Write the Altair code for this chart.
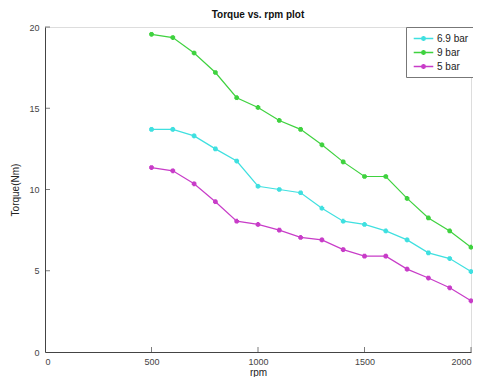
import altair as alt
import pandas as pd

rpm = [500, 600, 700, 800, 900, 1000, 1100, 1200, 1300, 1400, 1500, 1600, 1700, 1800, 1900, 2000]
torque_69 = [13.7, 13.7, 13.3, 12.5, 11.75, 10.2, 10.0, 9.8, 8.85, 8.05, 7.85, 7.45, 6.9, 6.1, 5.75, 4.95]
torque_9 = [19.55, 19.35, 18.4, 17.2, 15.65, 15.05, 14.25, 13.7, 12.75, 11.7, 10.8, 10.8, 9.45, 8.25, 7.45, 6.45]
torque_5 = [11.35, 11.15, 10.35, 9.25, 8.05, 7.85, 7.5, 7.05, 6.9, 6.3, 5.9, 5.9, 5.1, 4.55, 3.95, 3.15]
series = ["6.9 bar", "9 bar", "5 bar"]
colors = ["#3fe0e0", "#3fd23f", "#c83cc8"]
x_ticks = [500, 1000, 1500, 2000]
y_ticks = [5, 10, 15, 20]

rows = []
for name, vals in zip(series, [torque_69, torque_9, torque_5]):
    for r, t in zip(rpm, vals):
        rows.append({"rpm": r, "torque": t, "pressure": name})
df = pd.DataFrame(rows)

W, H = 426, 325
xscale = alt.Scale(domain=[0, 2000], nice=False, zero=False)
yscale = alt.Scale(domain=[0, 20], nice=False)
cscale = alt.Scale(domain=series, range=colors)

asterisk = "M-1,0L1,0M0,-1L0,1M-0.7,-0.7L0.7,0.7M-0.7,0.7L0.7,-0.7"
legend_sym = "M-1.5,0L1.5,0M-0.4,0L0.4,0M0,-0.4L0,0.4M-0.28,-0.28L0.28,0.28M-0.28,0.28L0.28,-0.28"

base = alt.Chart(df)
lines = base.mark_line(strokeWidth=1.2).encode(
    x=alt.X("rpm:Q", scale=xscale,
            axis=alt.Axis(values=[0] + x_ticks, format="d", title="rpm", grid=False, ticks=False,
                          domainColor="#444", labelColor="#444", labelFontSize=9,
                          labelPadding=5, titleFontSize=10, titleFontWeight="normal",
                          titlePadding=1, titleColor="#222", labelFont="Liberation Sans",
                          titleFont="Liberation Sans")),
    y=alt.Y("torque:Q", scale=yscale,
            axis=alt.Axis(values=[0] + y_ticks, title="Torque(Nm)", grid=False, ticks=False,
                          domainColor="#444", labelColor="#444", labelFontSize=9,
                          labelPadding=6, titleFontSize=10, titleFontWeight="normal",
                          titlePadding=8, titleColor="#222", labelFont="Liberation Sans",
                          titleFont="Liberation Sans")),
    color=alt.Color("pressure:N", scale=cscale, sort=series,
                    legend=alt.Legend(title=None, orient="none", legendX=361, legendY=0,
                                      symbolType=legend_sym, symbolSize=170,
                                      symbolStrokeWidth=1.5, labelFontSize=10,
                                      labelFont="Liberation Sans", labelColor="#222",
                                      strokeColor="#777", fillColor="white",
                                      padding=4, rowPadding=0, labelOffset=6,
                                      symbolOffset=6)),
)
points = base.mark_point(shape=asterisk, size=22, strokeWidth=2.5, filled=False, opacity=1).encode(
    x=alt.X("rpm:Q", scale=xscale),
    y=alt.Y("torque:Q", scale=yscale),
    color=alt.Color("pressure:N", scale=cscale, sort=series, legend=None),
)

tick_x = pd.DataFrame({"tx": x_ticks})
tick_y = pd.DataFrame({"ty": y_ticks})
xt = alt.Chart(tick_x).mark_tick(color="#444", thickness=1, size=5, orient="vertical").encode(
    x=alt.X("tx:Q", scale=xscale), y=alt.value(H - 2.5))
yt = alt.Chart(tick_y).mark_tick(color="#444", thickness=1, size=5, orient="horizontal").encode(
    y=alt.Y("ty:Q", scale=yscale), x=alt.value(2.5))

chart = alt.layer(lines, points, xt, yt).properties(
    width=W, height=H,
    title=alt.TitleParams("Torque vs. rpm plot", fontSize=10, fontWeight="bold",
                          font="Liberation Sans", color="#111", offset=3),
    autosize=alt.AutoSizeParams(type="none"),
    padding={"left": 37, "top": 19, "right": 2, "bottom": 25},
).configure_view(stroke=None).configure(background="white")

chart.save("out.html", embed_options={"renderer": "svg", "actions": False})
